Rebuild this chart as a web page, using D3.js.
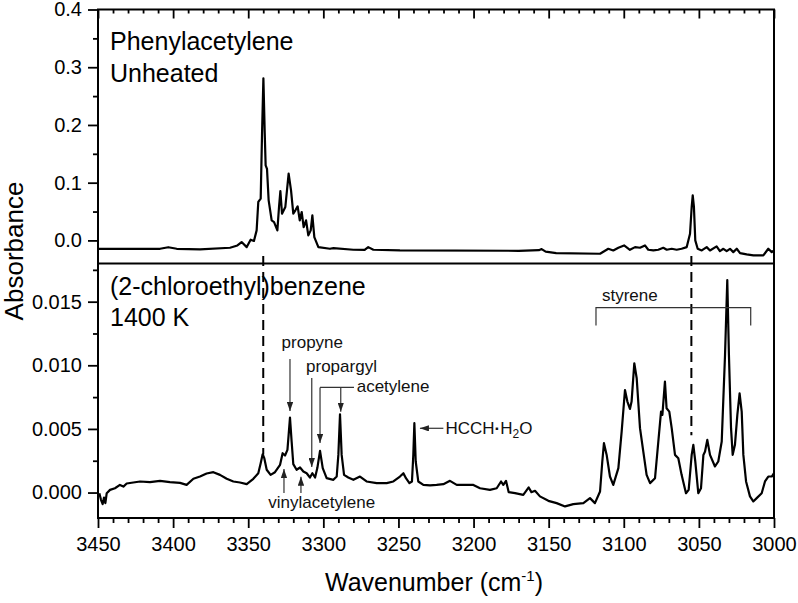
<!DOCTYPE html>
<html>
<head>
<meta charset="utf-8">
<script src="https://cdn.jsdelivr.net/npm/d3@7"></script>
<style>
body { margin: 0; background: #fff; }
svg { display: block; font-family: "Liberation Sans", Arial, sans-serif; }
</style>
</head>
<body>
<svg id="chart" width="798" height="603"></svg>
<script>
// [wavenumber (cm-1), absorbance]
const unheatedSpectrum = [
    [3449.8, -0.0145], [3426.5, -0.0145], [3408.7, -0.0145], [3403.2, -0.0118], [3397.6, -0.0145],
    [3382.1, -0.0156], [3362.1, -0.0127], [3357.2, -0.0087], [3354.4, -0.0029], [3351.0, -0.0116],
    [3348.4, 0.0012], [3346.2, -0.0010], [3344.4, 0.0174], [3343.3, 0.0666], [3341.7, 0.0723],
    [3340.8, 0.185], [3339.9, 0.2807], [3339.0, 0.185], [3338.4, 0.130], [3337.5, 0.124],
    [3336.4, 0.0695], [3334.4, 0.0347], [3332.8, 0.0318], [3330.6, 0.0174], [3329.5, 0.0579],
    [3328.6, 0.0856], [3327.5, 0.0463], [3325.3, 0.0579], [3323.1, 0.1157], [3321.5, 0.0868],
    [3320.0, 0.0463], [3318.6, 0.0521], [3317.1, 0.0590], [3315.7, 0.0347], [3314.4, 0.0492],
    [3313.1, 0.0231], [3311.5, 0.0347], [3310.0, 0.0087], [3308.4, 0.0174], [3307.3, 0.0434],
    [3306.0, 0.0058], [3303.3, -0.0116], [3295.6, -0.0145], [3293.3, -0.0133], [3280.0, -0.0162],
    [3272.5, -0.0165], [3270.1, -0.0116], [3266.7, -0.0162], [3249.0, -0.0174], [3170.0, -0.0180],
    [3156.5, -0.0170], [3154.7, -0.0150], [3152.0, -0.0195], [3145.0, -0.0220], [3115.8, -0.0231],
    [3110.3, -0.0145], [3107.0, -0.0174],
    [3103.6, -0.0127], [3099.8, -0.0087], [3095.9, -0.0162], [3092.5, -0.0116], [3089.2, -0.0127],
    [3085.9, -0.0087], [3083.7, -0.0162], [3080.3, -0.0174], [3077.0, -0.0162], [3073.7, -0.0127],
    [3071.4, -0.0162], [3068.1, -0.0145], [3064.8, -0.0162], [3061.5, -0.0145], [3058.1, -0.0116],
    [3055.9, 0.0116], [3054.8, 0.0579], [3054.1, 0.0781], [3053.3, 0.0579], [3052.4, 0.0000],
    [3050.8, -0.0145], [3048.1, -0.0174], [3044.8, -0.0116], [3042.6, -0.0174], [3038.2, -0.0104],
    [3036.0, -0.0185], [3033.7, -0.0145], [3031.5, -0.0185], [3029.3, -0.0145], [3027.1, -0.0203],
    [3024.8, -0.0145], [3022.6, -0.0220], [3018.2, -0.0243], [3013.7, -0.0260], [3007.1, -0.0260],
    [3003.8, -0.0145], [3001.5, -0.0203], [3000.0, -0.0174]
];

const pyrolysisSpectrum = [
    [3449.1, -0.00005], [3448.0, -0.00057], [3446.9, -0.00091], [3446.0, -0.00039], [3445.1, -0.00083],
    [3444.2, -0.00005], [3442.0, 0.00021], [3438.7, 0.00034], [3435.4, 0.00060], [3433.1, 0.00047],
    [3430.9, 0.00071], [3426.5, 0.00079], [3422.0, 0.00087], [3415.4, 0.00082], [3408.7, 0.00092],
    [3402.1, 0.00082], [3395.4, 0.00076], [3391.0, 0.00060], [3386.5, 0.00108], [3382.1, 0.00126],
    [3377.7, 0.00150], [3373.2, 0.00160], [3368.8, 0.00139], [3364.3, 0.00108], [3359.9, 0.00087],
    [3355.5, 0.00079], [3351.0, 0.00066], [3346.6, 0.00108], [3343.3, 0.00152], [3341.7, 0.00231],
    [3340.4, 0.00301], [3339.3, 0.00270], [3337.7, 0.00179], [3335.1, 0.00139], [3332.2, 0.00160],
    [3328.8, 0.00218], [3327.1, 0.00309], [3325.5, 0.00291], [3323.9, 0.00335], [3323.1, 0.00453],
    [3322.2, 0.00589], [3321.1, 0.00401], [3320.0, 0.00223], [3317.8, 0.00179], [3315.5, 0.00197],
    [3313.3, 0.00166], [3311.1, 0.00152], [3308.9, 0.00118], [3307.3, 0.00152], [3305.5, 0.00118],
    [3304.0, 0.00192], [3302.2, 0.00328], [3300.4, 0.00192], [3297.8, 0.00113], [3293.3, 0.00100],
    [3291.1, 0.00126], [3290.0, 0.00296], [3288.9, 0.00615], [3287.8, 0.00296], [3286.2, 0.00139],
    [3283.4, 0.00118], [3280.0, 0.00100], [3275.6, 0.00126], [3271.2, 0.00087], [3264.5, 0.00074],
    [3257.8, 0.00074], [3253.4, 0.00087], [3249.0, 0.00126], [3246.7, 0.00152], [3245.0, 0.00113],
    [3242.7, 0.00074], [3241.0, 0.00087], [3240.1, 0.00296], [3239.4, 0.00545], [3238.5, 0.00244],
    [3236.8, 0.00087], [3233.4, 0.00060], [3229.0, 0.00056], [3224.6, 0.00060], [3220.1, 0.00066],
    [3215.7, 0.00092], [3211.2, 0.00060], [3205.7, 0.00060], [3200.1, 0.00060], [3195.7, 0.00034],
    [3189.1, 0.00021], [3184.6, 0.00034], [3181.7, 0.00087], [3180.2, 0.00060], [3178.4, 0.00092],
    [3176.6, 0.00003], [3172.4, -0.00005], [3166.9, -0.00018], [3163.3, 0.00040], [3161.5, 0.00003],
    [3159.1, 0.00014], [3155.8, -0.00030], [3150.2, -0.00065], [3144.7, -0.00083], [3139.1, -0.00109],
    [3133.6, -0.00091], [3126.9, -0.00083], [3122.5, -0.00044], [3119.2, -0.00083], [3115.8, 0.00008],
    [3114.3, 0.00244], [3113.2, 0.00388], [3111.4, 0.00296], [3109.2, 0.00126], [3107.0, 0.00060],
    [3103.6, 0.00192], [3101.4, 0.00480], [3099.2, 0.00806], [3097.6, 0.00715], [3095.9, 0.00657],
    [3094.8, 0.00715], [3093.0, 0.01016], [3091.4, 0.00898], [3089.2, 0.00506], [3087.0, 0.00322],
    [3084.8, 0.00139], [3082.5, 0.00074], [3079.2, 0.00113], [3077.0, 0.00401], [3075.2, 0.00636],
    [3074.3, 0.00610], [3072.6, 0.00872], [3071.5, 0.00662], [3069.7, 0.00636], [3068.1, 0.00506],
    [3065.9, 0.00296], [3063.7, 0.00270], [3061.5, 0.00139], [3058.6, -0.00005], [3056.8, 0.00021],
    [3054.8, 0.00296], [3053.7, 0.00375], [3052.4, 0.00244], [3050.4, -0.00005], [3048.6, 0.00034],
    [3047.0, 0.00296], [3045.9, 0.00322], [3044.4, 0.00414], [3042.6, 0.00296], [3039.3, 0.00205],
    [3037.1, 0.00244], [3034.8, 0.00401], [3032.6, 0.01081], [3031.1, 0.01670], [3030.0, 0.01081],
    [3028.6, 0.00506], [3027.5, 0.00296], [3026.0, 0.00375], [3024.4, 0.00610], [3022.9, 0.00780],
    [3021.5, 0.00636], [3020.4, 0.00296], [3018.6, 0.00087], [3016.0, -0.00030], [3013.8, -0.00070],
    [3011.5, -0.00044], [3008.2, -0.00005], [3006.0, 0.00087], [3003.8, 0.00126], [3001.5, 0.00126],
    [3000.0, 0.00152]
];

const xMajorTicks = [3450, 3400, 3350, 3300, 3250, 3200, 3150, 3100, 3050, 3000];
const xMinorTicks = d3.range(3440, 3000, -10).filter(v => v % 50 !== 0);
const topMajorTicks = [0.0, 0.1, 0.2, 0.3, 0.4];
const topMinorTicks = [0.05, 0.15, 0.25, 0.35];
const bottomMajorTicks = [0.000, 0.005, 0.010, 0.015];
const bottomMinorTicks = [0.0025, 0.0075, 0.0125, 0.0175];
const compareLines = [3340, 3055];

const svg = d3.select("#chart");

const left = 98, right = 774;
const topTop = 9.5, mid = 263.5, bottomBottom = 518;

// scales
const x = d3.scaleLinear().domain([3450, 3000]).range([left, right]);
const yTop = d3.scaleLinear().domain([-0.04, 0.4]).range([mid, topTop]);
const yBot = d3.scaleLinear().domain([-0.002, 0.018]).range([bottomBottom, mid]);

const defs = svg.append("defs");
defs.append("marker")
    .attr("id", "arrow")
    .attr("viewBox", "0 0 10 7")
    .attr("refX", 10)
    .attr("refY", 3.5)
    .attr("markerUnits", "userSpaceOnUse")
    .attr("markerWidth", 9)
    .attr("markerHeight", 6.3)
    .attr("orient", "auto")
    .append("path")
    .attr("d", "M0,0L10,3.5L0,7z")
    .attr("fill", "#222");

function styleAxis(g) {
    g.select(".domain").remove();
    g.selectAll(".tick line").attr("stroke", "#000").attr("stroke-width", 1.8);
    g.selectAll(".tick text").attr("fill", "#000").attr("font-size", "20px");
}

// Top panel: left axis
svg.append("g")
    .attr("transform", `translate(${left},0)`)
    .call(d3.axisLeft(yTop).tickValues(topMajorTicks).tickSize(10).tickPadding(6).tickFormat(d3.format(".1f")))
    .call(styleAxis);
svg.append("g")
    .attr("transform", `translate(${left},0)`)
    .call(d3.axisLeft(yTop).tickValues(topMinorTicks).tickSize(5).tickFormat(""))
    .call(styleAxis);

// Top panel: inward ticks on top edge
svg.append("g")
    .attr("transform", `translate(0,${topTop})`)
    .call(d3.axisTop(x).tickValues(xMajorTicks).tickSize(-9).tickFormat(""))
    .call(styleAxis);
svg.append("g")
    .attr("transform", `translate(0,${topTop})`)
    .call(d3.axisTop(x).tickValues(xMinorTicks).tickSize(-4).tickFormat(""))
    .call(styleAxis);

// Bottom panel: left axis
svg.append("g")
    .attr("transform", `translate(${left},0)`)
    .call(d3.axisLeft(yBot).tickValues(bottomMajorTicks).tickSize(10).tickPadding(6).tickFormat(d3.format(".3f")))
    .call(styleAxis);
svg.append("g")
    .attr("transform", `translate(${left},0)`)
    .call(d3.axisLeft(yBot).tickValues(bottomMinorTicks).tickSize(5).tickFormat(""))
    .call(styleAxis);

// Bottom x axis
svg.append("g")
    .attr("transform", `translate(0,${bottomBottom})`)
    .call(d3.axisBottom(x).tickValues(xMajorTicks).tickSize(10).tickPadding(9).tickFormat(d3.format("d")))
    .call(styleAxis);
svg.append("g")
    .attr("transform", `translate(0,${bottomBottom})`)
    .call(d3.axisBottom(x).tickValues(xMinorTicks).tickSize(5).tickFormat(""))
    .call(styleAxis);

// Frames
svg.append("rect")
    .attr("x", left).attr("y", topTop)
    .attr("width", right - left).attr("height", bottomBottom - topTop)
    .attr("fill", "none").attr("stroke", "#000").attr("stroke-width", 2);
svg.append("line")
    .attr("x1", left).attr("x2", right)
    .attr("y1", mid).attr("y2", mid)
    .attr("stroke", "#000").attr("stroke-width", 2.2);

// Spectra
const lineTop = d3.line().x(d => x(d[0])).y(d => yTop(d[1]));
const lineBot = d3.line().x(d => x(d[0])).y(d => yBot(d[1]));

svg.append("path")
    .datum(unheatedSpectrum)
    .attr("fill", "none")
    .attr("stroke", "#000")
    .attr("stroke-width", 2.2)
    .attr("stroke-linejoin", "round")
    .attr("d", lineTop);

svg.append("path")
    .datum(pyrolysisSpectrum)
    .attr("fill", "none")
    .attr("stroke", "#000")
    .attr("stroke-width", 2.2)
    .attr("stroke-linejoin", "round")
    .attr("d", lineBot);

// Dashed guide lines linking the phenylacetylene bands
const dashEnds = [0.0030, 0.0045];
compareLines.forEach((wn, i) => {
    svg.append("line")
        .attr("x1", x(wn)).attr("x2", x(wn))
        .attr("y1", yTop(-0.027)).attr("y2", yBot(dashEnds[i]))
        .attr("stroke", "#000")
        .attr("stroke-width", 2)
        .attr("stroke-dasharray", "10,6");
});

// Panel labels
svg.append("text").attr("x", 110).attr("y", 50).attr("font-size", "25px").text("Phenylacetylene");
svg.append("text").attr("x", 110).attr("y", 82).attr("font-size", "25px").text("Unheated");
svg.append("text").attr("x", 110).attr("y", 295).attr("font-size", "25px").text("(2-chloroethyl)benzene");
svg.append("text").attr("x", 110).attr("y", 326).attr("font-size", "25px").text("1400 K");

// Axis titles
const xTitle = svg.append("text")
    .attr("x", 434).attr("y", 591)
    .attr("text-anchor", "middle")
    .attr("font-size", "25px")
    .text("Wavenumber (cm");
xTitle.append("tspan").attr("font-size", "15px").attr("dy", -10).text("-1");
xTitle.append("tspan").attr("dy", 10).text(")");

svg.append("text")
    .attr("transform", "translate(23,251) rotate(-90)")
    .attr("text-anchor", "middle")
    .attr("font-size", "26px")
    .text("Absorbance");

// Annotations
const ann = svg.append("g").attr("font-size", "17px").attr("fill", "#111");

function arrow(x1, y1, x2, y2, head) {
    const l = ann.append("line")
        .attr("x1", x1).attr("y1", y1).attr("x2", x2).attr("y2", y2)
        .attr("stroke", "#333").attr("stroke-width", 1.2);
    if (head) l.attr("marker-end", "url(#arrow)");
}

// propyne
ann.append("text").attr("x", x(3327.8)).attr("y", yBot(0.01136)).text("propyne");
arrow(x(3322.2), yBot(0.0105), x(3322.2), yBot(0.0064), true);

// propargyl
ann.append("text").attr("x", x(3311.5)).attr("y", yBot(0.0095)).text("propargyl");
arrow(x(3307.7), yBot(0.0090), x(3307.7), yBot(0.0020), true);

// acetylene
ann.append("text").attr("x", x(3277.8)).attr("y", yBot(0.0079)).text("acetylene");
arrow(x(3302.2), yBot(0.00826), x(3279.6), yBot(0.00826), false);
arrow(x(3302.2), yBot(0.00826), x(3302.2), yBot(0.0039), true);
arrow(x(3288.4), yBot(0.00826), x(3288.4), yBot(0.00635), true);

// vinylacetylene
ann.append("text").attr("x", x(3336.6)).attr("y", yBot(-0.00124)).text("vinylacetylene");
arrow(x(3326.2), yBot(-0.00004), x(3326.2), yBot(0.00185), true);
arrow(x(3314.9), yBot(-0.00004), x(3314.9), yBot(0.00125), true);

// HCCH-H2O complex
arrow(x(3220.1), yBot(0.00505), x(3235.7), yBot(0.00505), true);
const hcch = ann.append("text").attr("x", x(3218.7)).attr("y", yBot(0.00458)).text("HCCH");
hcch.append("tspan").attr("font-weight", "bold").text("\u00B7");
hcch.append("tspan").text("H");
hcch.append("tspan").attr("font-size", "12px").attr("dy", 4).text("2");
hcch.append("tspan").attr("dy", -4).text("O");

// styrene bracket
ann.append("text").attr("x", x(3114.5)).attr("y", yBot(0.01505)).text("styrene");
ann.append("path")
    .attr("d", `M${x(3118.5)},${yBot(0.01312)}V${yBot(0.01453)}H${x(3015.5)}V${yBot(0.01312)}`)
    .attr("fill", "none")
    .attr("stroke", "#333")
    .attr("stroke-width", 1.2);
</script>
</body>
</html>
